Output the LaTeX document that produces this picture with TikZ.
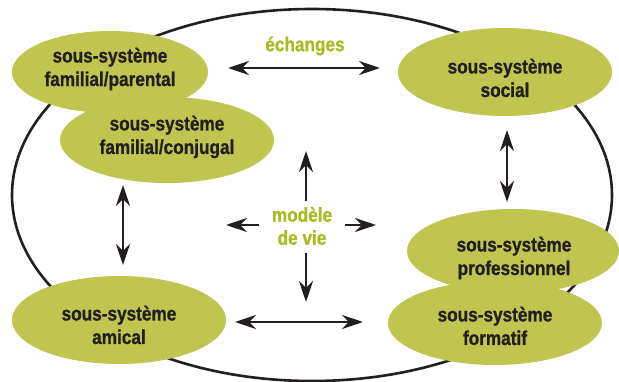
\documentclass[tikz,border=0pt]{standalone}
\usepackage{fontspec}
\setmainfont{Liberation Sans}[FakeStretch=0.86, BoldFeatures={FakeBold=0.9}]
\usetikzlibrary{shapes.geometric,arrows.meta}
\definecolor{blobgreen}{RGB}{191,197,78}
\definecolor{labgreen}{RGB}{168,188,34}
\definecolor{ink}{RGB}{35,31,32}
\tikzset{
  blob/.style={ellipse, fill=blobgreen, draw=none, inner sep=0pt},
  blobtext/.style={align=center, text=ink, font=\fontsize{20}{23.5}\selectfont\bfseries, inner sep=0pt},
  lab/.style={align=center, text=labgreen, font=\fontsize{20}{23}\selectfont\bfseries, inner sep=0pt},
  tip/.style={Stealth[length=21pt,width=14pt,inset=7pt]},
  arr/.style={draw=ink, line width=2.6pt, -{Stealth[length=21pt,width=14pt,inset=7pt]}},
  darr/.style={draw=ink, line width=2.6pt, {Stealth[length=21pt,width=14pt,inset=7pt]}-{Stealth[length=21pt,width=14pt,inset=7pt]}}
}
\begin{document}
\begin{tikzpicture}[x=1pt,y=-1pt]
\useasboundingbox (0,0) rectangle (619,382);
\fill[white] (0,0) rectangle (619,382);
\draw[ink, line width=2.6pt] (312,195) ellipse [x radius=300, y radius=186];

\node[blob, minimum width=196pt, minimum height=82pt] (par) at (110,72) {};
\node[blob, minimum width=214pt, minimum height=86pt] (conj) at (167,140) {};
\node[blob, minimum width=214pt, minimum height=88pt] (soc) at (505,72) {};
\node[blob, minimum width=214pt, minimum height=88pt] (ami) at (119,320) {};
\node[blob, minimum width=212pt, minimum height=84pt] (pro) at (513,251) {};
\node[blob, minimum width=214pt, minimum height=84pt] (form) at (495,323) {};

\node[blobtext] (tpar) at (110,69) {sous-système\\familial/parental};
\node[blobtext] (tconj) at (167,137) {sous-système\\familial/conjugal};
\node[blobtext] (tsoc) at (505,78) {sous-système\\social};
\node[blobtext] (tami) at (119,325) {sous-système\\amical};
\node[blobtext] (tpro) at (514,258) {sous-système\\professionnel};
\node[blobtext] (tform) at (495,326) {sous-système\\formatif};

\node[lab] (ech) at (305,46) {échanges};
\node[lab] (mod) at (302,226) {modèle\\de vie};

\coordinate (e1) at (228,68); \coordinate (e2) at (380,68);
\coordinate (s1) at (507,130); \coordinate (s2) at (507,202);
\coordinate (c1) at (123,185); \coordinate (c2) at (123,265);
\coordinate (b1) at (235,322); \coordinate (b2) at (363,322);
\coordinate (mu0) at (306,201); \coordinate (mu1) at (306,151);
\coordinate (md0) at (306,253); \coordinate (md1) at (306,302);
\coordinate (ml0) at (259,225); \coordinate (ml1) at (226,225);
\coordinate (mr0) at (345,225); \coordinate (mr1) at (376,225);

\draw[darr] (e1) -- (e2);
\draw[darr] (s1) -- (s2);
\draw[darr] (c1) -- (c2);
\draw[darr] (b1) -- (b2);
\draw[arr] (mu0) -- (mu1);
\draw[arr] (md0) -- (md1);
\draw[arr] (ml0) -- (ml1);
\draw[arr] (mr0) -- (mr1);
\end{tikzpicture}
\end{document}
